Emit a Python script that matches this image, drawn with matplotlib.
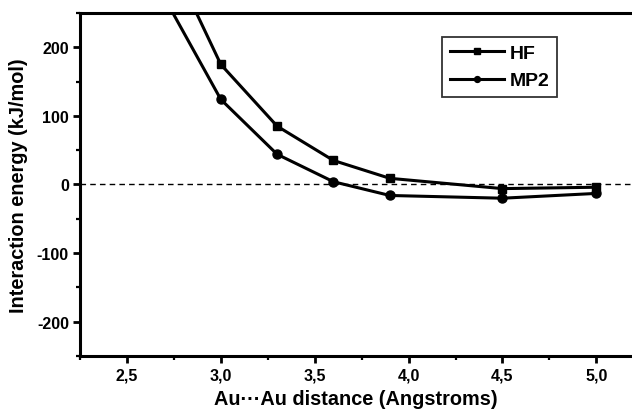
import matplotlib
matplotlib.use("Agg")
import matplotlib.pyplot as plt
from matplotlib.ticker import MultipleLocator, FuncFormatter

plt.rcParams['font.family'] = ['Liberation Sans', 'DejaVu Sans']
plt.rcParams['font.weight'] = 'bold'

distance = [2.7, 3.0, 3.3, 3.6, 3.9, 4.5, 5.0]
hf = [348, 175, 85, 35, 9, -6, -4]
mp2 = [272, 124, 44, 4, -16, -20, -13]

fig = plt.figure(figsize=(6.32, 4.14), dpi=100)
ax = fig.add_axes([0.1266, 0.1377, 0.8734, 0.8285])

ax.plot(distance, hf, color='black', lw=2.2, marker='s', ms=6, label='HF', clip_on=True)
ax.plot(distance, mp2, color='black', lw=2.2, marker='o', ms=6.5, label='MP2', clip_on=True)
ax.axhline(0, color='black', lw=1.0, ls=(0, (4, 3)))

ax.set_xlim(2.25, 5.19)
ax.set_ylim(-250, 250)
ax.xaxis.set_major_locator(MultipleLocator(0.5))
ax.xaxis.set_minor_locator(MultipleLocator(0.25))
ax.yaxis.set_major_locator(MultipleLocator(100))
ax.yaxis.set_minor_locator(MultipleLocator(50))
ax.xaxis.set_major_formatter(FuncFormatter(lambda v, p: f"{v:.1f}".replace('.', ',')))
ax.yaxis.set_major_formatter(FuncFormatter(lambda v, p: f"{int(round(v))}"))

for s in ['left', 'bottom', 'top']:
    ax.spines[s].set_linewidth(2.2)
ax.spines['right'].set_visible(False)
ax.tick_params(which='major', direction='out', length=5, width=2, labelsize=11.5, pad=3)
ax.tick_params(which='minor', direction='out', length=3, width=1.6)
ax.tick_params(top=False, which='both')

ax.set_xlabel('Au···Au distance (Angstroms)', fontsize=14.3, fontweight='bold', labelpad=5)
ax.set_ylabel('Interaction energy (kJ/mol)', fontsize=14.3, fontweight='bold', labelpad=6)

leg = ax.legend(loc='upper left', bbox_to_anchor=(0.656, 0.93), frameon=True, fancybox=False,
                edgecolor='black', fontsize=14, handlelength=2.8, markerscale=0.65,
                borderpad=0.38, labelspacing=0.5, handletextpad=0.3, borderaxespad=0)
leg.get_frame().set_linewidth(1.3)
for t in leg.get_texts():
    t.set_fontweight('bold')

fig.savefig('out.png', dpi=100)
